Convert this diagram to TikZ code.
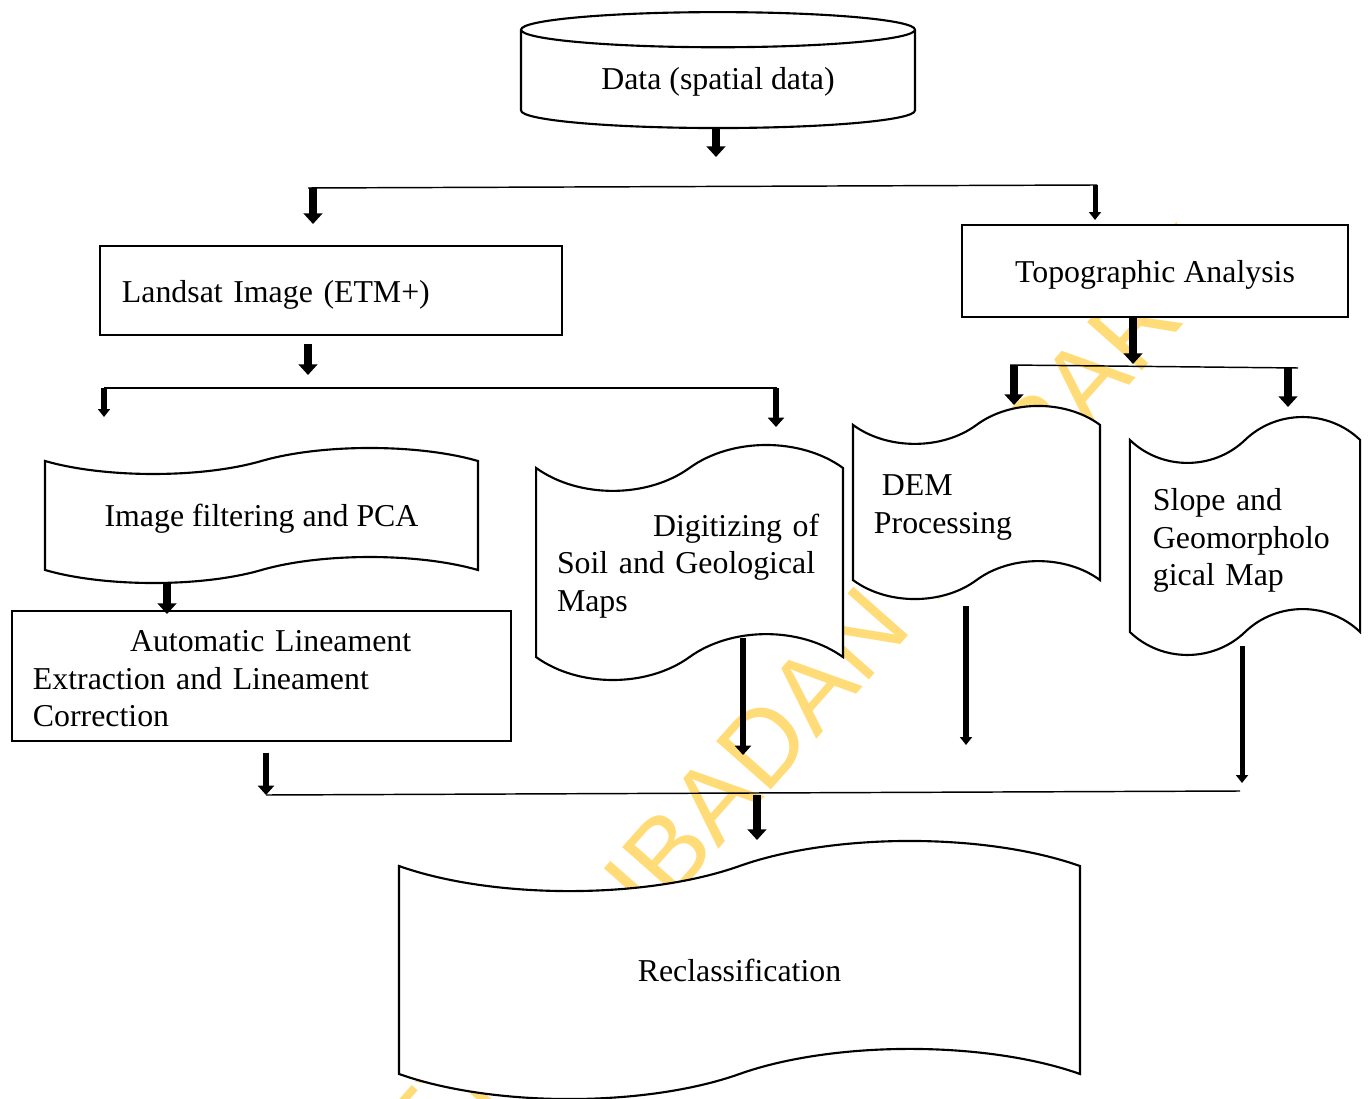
\documentclass[tikz,border=0pt]{standalone}
\usepackage{fontspec}
\setmainfont{Liberation Serif}
\newfontfamily\wmfont{Liberation Sans}
\usetikzlibrary{positioning, shapes.geometric, shapes.symbols, arrows.meta}

\definecolor{wmyellow}{RGB}{255,220,120}

\tikzset{
  txt/.style={font=\fontsize{12}{14.1}\selectfont},
  box/.style={rectangle, draw, line width=0.8pt, fill=white, txt},
  flag/.style={tape, draw, line width=0.8pt, fill=white, txt, inner sep=0pt},
  oneline/.style={text depth=0pt},
  branch/.style={line width=0.55pt},
  bigarrow/.style={line width=3pt, -{Triangle[width=7pt,length=4pt]}},
  midarrow/.style={line width=2.4pt, -{Triangle[width=6pt,length=3.5pt]}},
  smallarrow/.style={line width=1.9pt, -{Triangle[width=4.5pt,length=3pt]}},
}

\begin{document}
\begin{tikzpicture}[x=0.377pt, y=-0.377pt]
  \useasboundingbox (0,0) rectangle (1369,1099);

  % Filigrana
  \node[rotate=48.5, text=wmyellow, font=\wmfont\fontsize{40}{40}\selectfont] (wm) at (636,888) {UNIVERSITY OF IBADAN LIBRARY};

  % Dati
  \node[cylinder, shape border rotate=90, draw, line width=0.8pt, fill=white, txt, aspect=0.14, minimum width=148.5pt, minimum height=43.7pt] (data) at (718,82) {Data (spatial data)};

  % Ramo immagine
  \node[box, minimum width=174.2pt, minimum height=33.6pt, text width=157.6pt, inner xsep=8.3pt, align=left] (landsat) at (331,290.5) {\rule{0pt}{12pt}Landsat Image (ETM+)};
  \node[flag, oneline, minimum width=163.2pt, minimum height=50.9pt, tape bend height=9.8pt] (filt) at (261.5,515.5) {Image filtering and PCA};
  \node[box, minimum width=188.1pt, minimum height=49pt, text width=172.3pt, inner xsep=7.9pt, align=left] (autoline) at (261.5,676) {\rule{0pt}{10pt}\hspace*{36.6pt}Automatic Lineament\\Extraction and Lineament\\Correction};
  \node[flag, minimum width=115.7pt, minimum height=88.6pt, tape bend height=17.3pt, text width=99.9pt, inner xsep=7.9pt, align=left] (digit) at (689.5,562.5) {\rule{0pt}{11pt}\hspace*{36.2pt}Digitizing of\\Soil and Geological\\Maps};

  % Ramo topografico
  \node[box, oneline, minimum width=145.5pt, minimum height=34.7pt] (topo) at (1155,271) {Topographic Analysis};
  \node[flag, minimum width=93.1pt, minimum height=72.8pt, tape bend height=14.3pt, text width=77.3pt, inner xsep=7.9pt, align=left] (dem) at (976.5,502.5) {\rule{0pt}{11.7pt}\hspace*{3pt}DEM\\Processing};
  \node[flag, minimum width=86.7pt, minimum height=89.7pt, tape bend height=17.3pt, text width=69.4pt, inner xsep=8.7pt, align=left] (slope) at (1245,536) {\rule{0pt}{11.9pt}Slope and\\Geomorpholo\\gical Map};

  % Risultato
  \node[flag, oneline, minimum width=256.7pt, minimum height=97.3pt, tape bend height=18.9pt] (recl) at (739.5,970) {Reclassification};

  % Diramazione iniziale
  \coordinate (top) at (716,157);
  \coordinate (splitL) at (308,188);
  \coordinate (splitR) at (1097,185);
  \coordinate (toLandsat) at (313,224);
  \coordinate (toTopo) at (1095,220);
  \draw[bigarrow] (data.south -| top) -- (top);
  \draw[branch] (splitL) -- (splitR);
  \draw[bigarrow] (toLandsat |- splitL) -- (toLandsat);
  \draw[smallarrow] (toTopo |- splitR) -- (toTopo);

  % Diramazione immagine
  \coordinate (imgSplit) at (308,375);
  \coordinate (imgL) at (104,388);
  \coordinate (imgR) at (777,388);
  \coordinate (toFilt) at (104,417);
  \coordinate (toDigit) at (776,427);
  \draw[bigarrow, shorten <=3pt] (landsat.south -| imgSplit) -- (imgSplit);
  \draw[branch] (imgL) -- (imgR);
  \draw[smallarrow] (imgL) -- (toFilt);
  \draw[midarrow] (toDigit |- imgR) -- (toDigit);
  \coordinate (toAuto) at (167,614);
  \draw[bigarrow, shorten <=4.5pt] (filt.south -| toAuto) -- (toAuto);

  % Diramazione topografica
  \coordinate (topoSplit) at (1133,364);
  \coordinate (topoL) at (1010,365);
  \coordinate (topoR) at (1298,368);
  \coordinate (toDem) at (1014,405);
  \coordinate (toSlope) at (1288,407);
  \draw[bigarrow] (topo.south -| topoSplit) -- (topoSplit);
  \draw[branch] (topoL) -- (topoR);
  \draw[bigarrow] (toDem |- topoL) -- (toDem);
  \draw[bigarrow] (toSlope |- topoR) -- (toSlope);

  % Confluenza
  \coordinate (joinL) at (266,795);
  \coordinate (joinR) at (1240,791);
  \coordinate (digitEnd) at (743,755);
  \coordinate (demEnd) at (966,745);
  \coordinate (slopeEnd) at (1242,783);
  \coordinate (toRecl) at (757,840);
  \draw[midarrow, shorten <=4pt] (autoline.south -| joinL) -- (joinL);
  \draw[midarrow, shorten <=-7.5pt] (digit.south -| digitEnd) -- (digitEnd);
  \draw[smallarrow, shorten <=9.4pt] (dem.south -| demEnd) -- (demEnd);
  \draw[smallarrow, shorten <=4.9pt] (slope.south -| slopeEnd) -- (slopeEnd);
  \draw[branch] (joinL) -- (joinR);
  \draw[bigarrow] (toRecl |- joinL) -- (toRecl);
\end{tikzpicture}
\end{document}
